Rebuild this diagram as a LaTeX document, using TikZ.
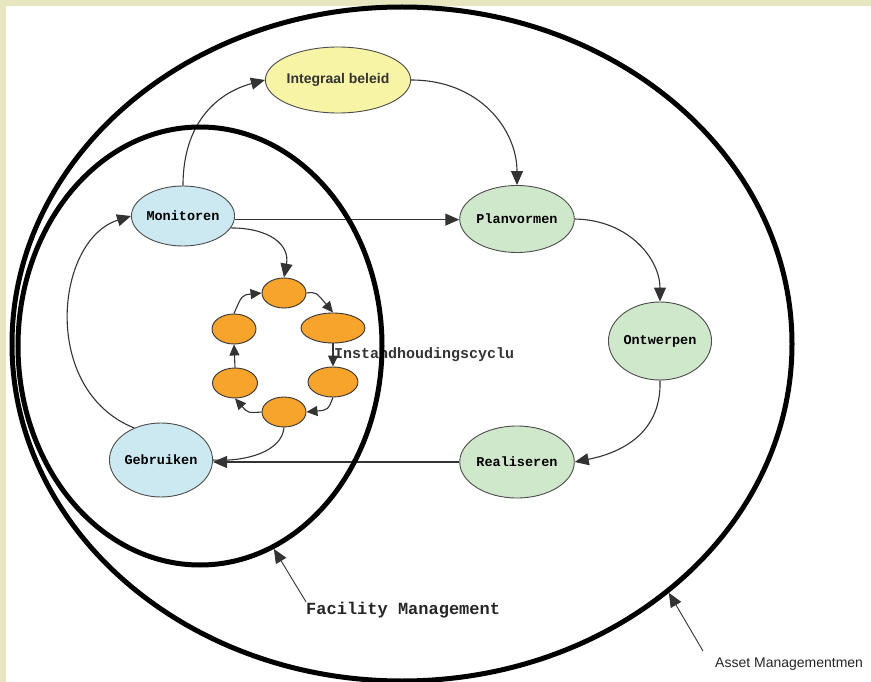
\documentclass[tikz,border=0pt]{standalone}
\usepackage{fontspec}
\newfontfamily\monofont{Liberation Mono}
\newfontfamily\sansfont{Liberation Sans}
\usetikzlibrary{arrows.meta, shapes.geometric}
\definecolor{cream}{HTML}{E8E6BE}
\definecolor{beleid}{HTML}{F8F4A6}
\definecolor{gebruik}{HTML}{CCE9F2}
\definecolor{proces}{HTML}{CFE8CB}
\definecolor{cyclus}{HTML}{F6A42C}

\begin{document}
\begin{tikzpicture}[x=1pt, y=-1pt, >={Triangle[length=14pt,width=12pt]},
    stap/.style={ellipse, draw=black!70, line width=0.9pt, inner sep=0pt,
      font=\monofont\bfseries\fontsize{13.5}{15}\selectfont},
    deel/.style={ellipse, draw=black!80, line width=0.9pt, fill=cyclus,
      inner sep=0pt, minimum height=30pt},
    pijl/.style={->, draw=black!80, line width=1.1pt},
    kort/.style={-{Triangle[length=11pt,width=10pt]}, draw=black!80, line width=1.1pt},
    kring/.style={ellipse, draw, line width=5pt, inner sep=0pt}]
    % Frame
    \clip (0,0) rectangle (871,682);
    \fill[cream] (0,0) rectangle (871,682);
    \fill[white] (6,6) rectangle (871,682);

    % Main steps
    \node[stap, fill=beleid, minimum width=144pt, minimum height=66pt,
      font=\sansfont\bfseries\fontsize{14}{16}\selectfont, text=black!80] (beleid) at (338,80) {Integraal beleid};
    \node[stap, fill=gebruik, minimum width=96pt, minimum height=60pt] (mon) at (183,216) {Monitoren};
    \node[stap, fill=proces, minimum width=96pt, minimum height=67pt] (plan) at (517,219) {Planvormen};
    \node[stap, fill=proces, minimum width=95pt, minimum height=78pt] (ontw) at (660,341) {Ontwerpen};
    \node[stap, fill=proces, minimum width=96pt, minimum height=72pt] (real) at (517,462) {Realiseren};
    \node[stap, fill=gebruik, minimum width=97pt, minimum height=74pt] (geb) at (161,460) {Gebruiken};

    % Maintenance cycle
    \node[deel, minimum width=44pt] (c1) at (284,293) {};
    \node[deel, minimum width=64pt] (c2) at (333,328) {};
    \node[deel, minimum width=50pt] (c3) at (333,382) {};
    \node[deel, minimum width=44pt] (c4) at (284,412) {};
    \node[deel, minimum width=45pt] (c5) at (235,383) {};
    \node[deel, minimum width=44pt] (c6) at (234,329) {};
    \node[anchor=west, inner sep=0pt, font=\monofont\bfseries\fontsize{15}{17}\selectfont,
      text=black!80] (cyclus) at (334,355) {Instandhoudingscyclu};

    \draw[kort] (c1.east) .. controls (316,292) .. (c2.north);
    \draw[kort] (c2.south) -- (c3.north);
    \draw[kort] (c3.south) .. controls (328,410) .. (c4.east);
    \draw[kort] (c4.west) .. controls (248,413) .. (c5.south);
    \draw[kort] (c5.north) -- (c6.south);
    \draw[kort] (c6.north) .. controls (242,295) .. (c1.west);

    % Connectors
    \draw[pijl] (mon.north) .. controls (183,120) and (220,92) .. (beleid.west);
    \draw[pijl] (beleid.east) .. controls (480,80) and (517,130) .. (plan.north);
    \draw[pijl] (mon.-4) -- (mon.-4 -| plan.west);
    \draw[pijl] (plan.east) .. controls (630,220) and (660,260) .. (ontw.north);
    \draw[pijl] (ontw.south) .. controls (662,440) and (610,455) .. (real.east);
    \draw[pijl] (real.west) -- (real.west -| geb.east);
    \draw[pijl] (geb.130) .. controls (40,390) and (55,240) .. (mon.west);
    \draw[pijl] (mon.-14) .. controls (270,228) and (290,245) .. (c1.north);
    \draw[draw=black!80, line width=1.1pt] (c4.south) .. controls (282,452) and (245,462) .. (geb.east);

    % Management areas
    \node[kring, minimum width=780pt, minimum height=674pt] (asset) at (402,344) {};
    \node[kring, minimum width=364pt, minimum height=438pt] (facility) at (200,346) {};

    \node[font=\monofont\bfseries\fontsize{17}{19}\selectfont, text=black!85,
      anchor=west, inner sep=0pt] (fmtekst) at (306,610) {Facility Management};
    \node[font=\sansfont\fontsize{14}{16}\selectfont, text=black!85,
      anchor=west, inner sep=0pt] (amtekst) at (715,664) {Asset Managementmen};
    \coordinate (amvoet) at (703,651);
    \draw[pijl, line width=0.9pt] (fmtekst.north west) -- (facility.-70);
    \draw[pijl, line width=0.9pt] (amvoet) -- (asset.-43);
\end{tikzpicture}
\end{document}
